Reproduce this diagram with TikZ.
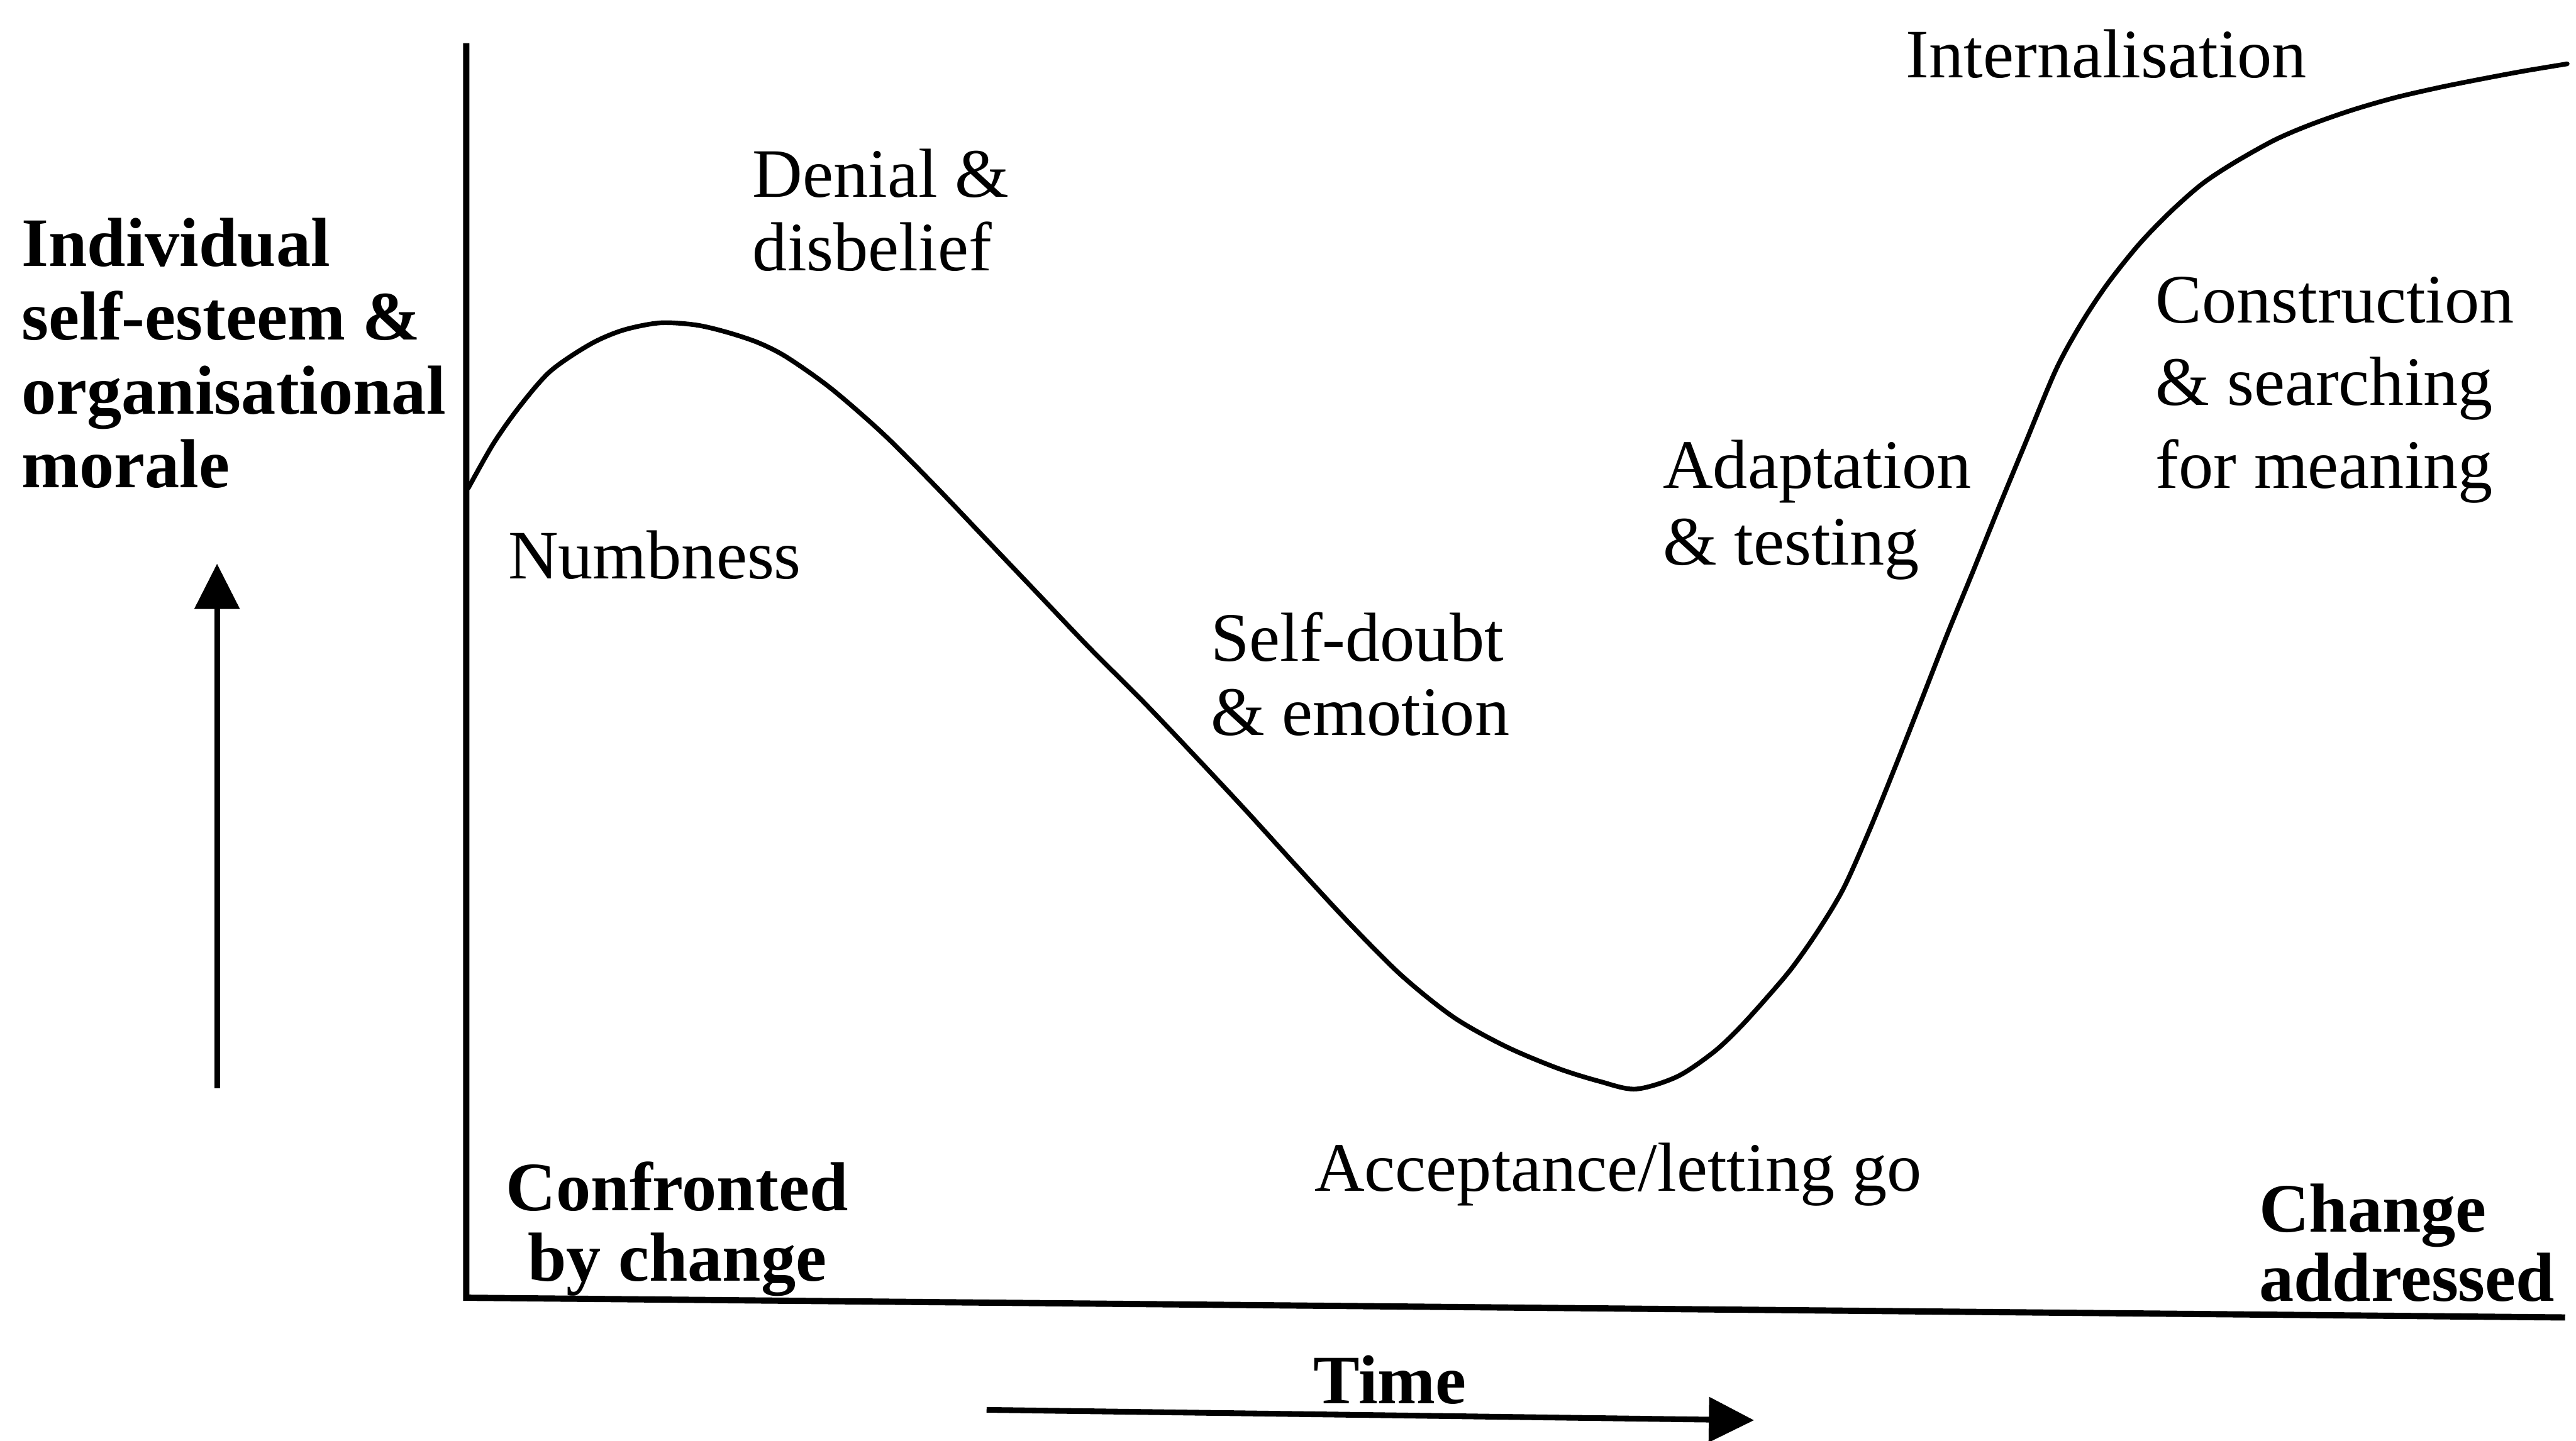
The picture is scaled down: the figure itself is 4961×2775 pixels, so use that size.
\documentclass[tikz,border=0pt]{standalone}
\usepackage{fontspec}
\setmainfont{Liberation Serif}
\usetikzlibrary{arrows.meta}
\begin{document}
\begin{tikzpicture}[x=0.01cm,y=-0.01cm,
  lbl/.style={inner sep=0pt,anchor=base west,font=\fontsize{38pt}{40pt}\selectfont},
  blbl/.style={lbl,font=\fontsize{38pt}{40pt}\selectfont\bfseries},
  axisline/.style={line width=0.12cm,line join=miter},
  curveline/.style={line width=0.09cm,line cap=round,line join=round},
  bigarrow/.style={line width=0.11cm,-{Triangle[length=0.87cm,width=0.85cm]}}]
\useasboundingbox[fill=white] (0,0) rectangle (4961,2775);

% axes
\coordinate (Ytop) at (898,83);
\coordinate (O) at (898,2500);
\coordinate (Xend) at (4940,2538);
\draw[axisline] (Ytop) -- (O) -- (Xend);

% curve
\draw[curveline] plot[smooth,tension=0.5] coordinates {
 (902,940) (950,855) (1000,784) (1060,715) (1137,663) (1200,636) (1271,622)
 (1340,626) (1400,640) (1460,660) (1515,688) (1600,748) (1700,835) (1800,935)
 (1900,1040) (2000,1145) (2100,1250) (2200,1350) (2300,1455) (2400,1562)
 (2500,1672) (2600,1780) (2700,1880) (2800,1960) (2900,2016) (3000,2058)
 (3080,2083) (3150,2098) (3230,2074) (3300,2027) (3350,1980) (3400,1925)
 (3450,1866) (3500,1795) (3550,1712) (3600,1600) (3650,1477) (3700,1350)
 (3750,1222) (3800,1100) (3850,976) (3900,855) (3960,711) (4010,620)
 (4060,545) (4120,470) (4180,408) (4240,355) (4300,315) (4380,270)
 (4450,240) (4530,212) (4613,188) (4700,168) (4780,152) (4860,137) (4944,123)};

% vertical arrow
\coordinate (vS) at (418,2096);
\coordinate (vE) at (418,1086);
\draw[bigarrow] (vS) -- (vE);

% time arrow
\coordinate (tS) at (1900,2716);
\coordinate (tE) at (3378,2736);
\draw[bigarrow] (tS) -- (tE);

% y-axis label
\node[blbl] (ylab1) at (41,513) {Individual};
\node[blbl] (ylab2) at (41,655) {self-esteem \&};
\node[blbl] (ylab3) at (41,797) {organisational};
\node[blbl] (ylab4) at (41,939) {morale};

% stage labels
\node[lbl] (den1) at (1449,380) {Denial \&};
\node[lbl] (den2) at (1449,522) {disbelief};
\node[lbl] (numb) at (978,1115) {Numbness};
\node[lbl] (sd1) at (2331,1274) {Self-doubt};
\node[lbl] (sd2) at (2331,1417) {\& emotion};
\node[lbl] (acc) at (2531,2294) {Acceptance/letting go};
\node[lbl] (ad1) at (3202,941) {Adaptation};
\node[lbl] (ad2) at (3202,1088) {\& testing};
\node[lbl] (con1) at (4151,622) {Construction};
\node[lbl] (con2) at (4151,781) {\& searching};
\node[lbl] (con3) at (4151,940) {for meaning};
\node[lbl] (int) at (3670,149) {Internalisation};

% bottom labels
\node[blbl,anchor=base] (cf1) at (1304,2332) {Confronted};
\node[blbl,anchor=base] (cf2) at (1304,2468) {by change};
\node[blbl] (ca1) at (4350,2373) {Change};
\node[blbl] (ca2) at (4350,2506) {addressed};
\node[blbl,anchor=base] (time) at (2677,2704) {Time};
\end{tikzpicture}
\end{document}
